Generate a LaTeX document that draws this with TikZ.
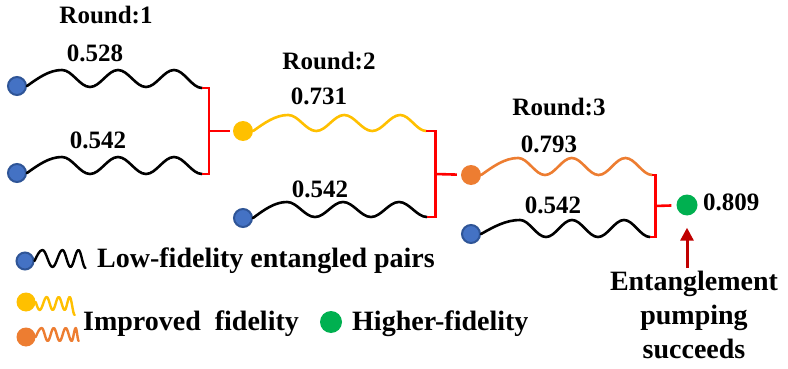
\documentclass[tikz,border=0pt]{standalone}
\usepackage{fontspec}
\setmainfont{Liberation Serif}
\usetikzlibrary{arrows.meta}
\definecolor{dblue}{HTML}{4472C4}
\definecolor{dblueo}{HTML}{2F5597}
\definecolor{dyel}{HTML}{FFC000}
\definecolor{dorg}{HTML}{ED7D31}
\definecolor{dgrn}{HTML}{00B050}
\definecolor{bred}{HTML}{FF0000}
\definecolor{ared}{HTML}{C00000}
\tikzset{
  wv/.style={line width=2.6pt, line cap=round, line join=round},
  brk/.style={draw=bred, line width=2.6pt},
  dotb/.style={circle, fill=dblue, draw=dblueo, line width=2pt, minimum size=18pt, inner sep=0pt},
  doty/.style={circle, fill=dyel, minimum size=20pt, inner sep=0pt},
  doto/.style={circle, fill=dorg, minimum size=20pt, inner sep=0pt},
  dotg/.style={circle, fill=dgrn, minimum size=21pt, inner sep=0pt},
  lbl/.style={font=\bfseries\fontsize{25}{30}\selectfont, inner sep=0pt},
  leg/.style={font=\bfseries\fontsize{28}{34}\selectfont, inner sep=0pt},
  arr/.style={draw=ared, line width=3pt, -{Triangle[width=13pt,length=13pt]}},
}
\begin{document}
\begin{tikzpicture}[x=1pt,y=-1pt]
\fill[white] (0,0) rectangle (788,369);
\useasboundingbox (0,0) rectangle (788,369);

% ---- dots
\node[dotb] (dA) at (17,86) {};
\node[dotb] (dB) at (17,173) {};
\node[doty] (dC) at (243,131) {};
\node[dotb] (dD) at (243,218) {};
\node[doto] (dE) at (471,175) {};
\node[dotb] (dF) at (471,234) {};
\node[dotg] (dG) at (687,205) {};

% ---- waves round 1
\draw[wv] (dA.east) sin ++(35,-16)
  cos ++(14,8.5) sin ++(14,8.5) cos ++(14,-8.5) sin ++(14,-8.5)
  cos ++(14,8.5) sin ++(14,8.5) cos ++(14,-8.5) sin ++(14,-8.5)
  cos ++(14,9) sin ++(14,9) coordinate (eA);
\draw[wv] (dB.east) sin ++(35,-16)
  cos ++(14,8.5) sin ++(14,8.5) cos ++(14,-8.5) sin ++(14,-8.5)
  cos ++(14,8.5) sin ++(14,8.5) cos ++(14,-8.5) sin ++(14,-8.5)
  cos ++(14,8.5) sin ++(14,8.5) coordinate (eB);
\draw[brk] (eA) -- ++(7,0) |- (eB);
\coordinate (m1) at (209,131);
\draw[brk, shorten >=3pt] (m1) -- (dC);

% ---- waves round 2
\draw[wv, dyel] (dC.east) sin ++(35,-16)
  cos ++(14,8) sin ++(14,8) cos ++(14,-8) sin ++(14,-8)
  cos ++(14,8) sin ++(14,8) cos ++(14,-8) sin ++(14,-8)
  cos ++(13,8) sin ++(13,8) coordinate (eC);
\draw[wv] (dD.east) sin ++(34,-16)
  cos ++(14,7.5) sin ++(14,7.5) cos ++(14,-7.5) sin ++(14,-7.5)
  cos ++(14,7.5) sin ++(14,7.5) cos ++(14,-7.5) sin ++(14,-7.5)
  cos ++(14,7.5) sin ++(14,7.5) coordinate (eD);
\draw[brk] (eC) -- ++(9,0) |- (eD);
\coordinate (m2) at (435,174);
\draw[brk, shorten >=4pt] (m2) -- (dE);

% ---- waves round 3
\draw[wv, dorg] (dE.east) sin ++(37,-17)
  cos ++(13.4,8.5) sin ++(13.4,8.5) cos ++(13.4,-8.5) sin ++(13.4,-8.5)
  cos ++(13.4,8.5) sin ++(13.4,8.5) cos ++(13.4,-8.5) sin ++(13.4,-8.5)
  cos ++(13.4,8.5) sin ++(13.4,8.5) coordinate (eE);
\draw[wv] (dF.east) sin ++(39,-14)
  cos ++(13,8.5) sin ++(13,8.5) cos ++(13,-8.5) sin ++(13,-8.5)
  cos ++(13,8.5) sin ++(13,8.5) cos ++(13,-8.5) sin ++(13,-8.5)
  cos ++(13,8.5) sin ++(13,8.5) coordinate (eF);
\draw[brk] (eE) -- ++(3,0) |- (eF);
\coordinate (m3) at (655,206);
\draw[brk, shorten >=5pt] (m3) -- (dG);

% ---- labels
\node[lbl, anchor=base] (r1) at (106,24) {Round:1};
\node[lbl, anchor=base] (n1) at (95,62) {0.528};
\node[lbl, anchor=base] (n2) at (98,148) {0.542};
\node[lbl, anchor=base] (r2) at (329,70) {Round:2};
\node[lbl, anchor=base] (n3) at (319,105) {0.731};
\node[lbl, anchor=base] (n4) at (320,197) {0.542};
\node[lbl, anchor=base] (r3) at (559,115) {Round:3};
\node[lbl, anchor=base] (n5) at (549,152) {0.793};
\node[lbl, anchor=base] (n6) at (553,213) {0.542};
\node[lbl, anchor=base west] (n7) at (703,210) {0.809};

% ---- arrow and note
\coordinate (ab) at (687,268);
\draw[arr, shorten >=12pt] (ab) -- (dG);
\node[leg, align=center, anchor=north] (note) at (694,271)
  {Entanglement\\pumping\\succeeds};

% ---- legend
\node[dotb, minimum size=17pt] (L1) at (25,261) {};
\draw[wv, line width=2.4pt] (L1.east) sin ++(8,-11)
  cos ++(5,8.5) sin ++(5,8.5) cos ++(5,-8.5) sin ++(5,-8.5)
  cos ++(4,8.5) sin ++(4,8.5) cos ++(4,-8.5) sin ++(4,-8.5)
  cos ++(3.5,9) sin ++(3.5,9);
\node[leg, anchor=base west] (t1) at (97,267) {Low-fidelity entangled pairs};

\node[doty, minimum size=19pt] (L2) at (26,302) {};
\draw[wv, dyel, line width=2.4pt] (L2.east) sin ++(4,8)
  cos ++(3.5,-6.5) sin ++(3.5,-6.5) cos ++(3,6.5) sin ++(3,6.5)
  cos ++(3,-6.5) sin ++(3,-6.5) cos ++(3,6.5) sin ++(3,6.5)
  cos ++(2.5,-6.5) sin ++(2.5,-6.5) cos ++(2.5,9) sin ++(2.5,9);

\node[doto, minimum size=19pt] (L3) at (26,337) {};
\draw[wv, dorg, line width=2.4pt] (L3.east) sin ++(6,-9)
  cos ++(3,6.5) sin ++(3,6.5) cos ++(3,-6.5) sin ++(3,-6.5)
  cos ++(3,6.5) sin ++(3,6.5) cos ++(3,-6.5) sin ++(3,-6.5)
  cos ++(3,6.5) sin ++(3,6.5) cos ++(2,-6.5) sin ++(2,-6.5)
  cos ++(1.5,6.5) sin ++(1.5,6.5);
\node[leg, anchor=base west] (t2) at (83,330) {Improved~~fidelity};

\node[dotg, minimum size=22pt] (L4) at (331,322) {};
\node[leg, anchor=base west] (t3) at (352,330) {Higher-fidelity};
\end{tikzpicture}
\end{document}
